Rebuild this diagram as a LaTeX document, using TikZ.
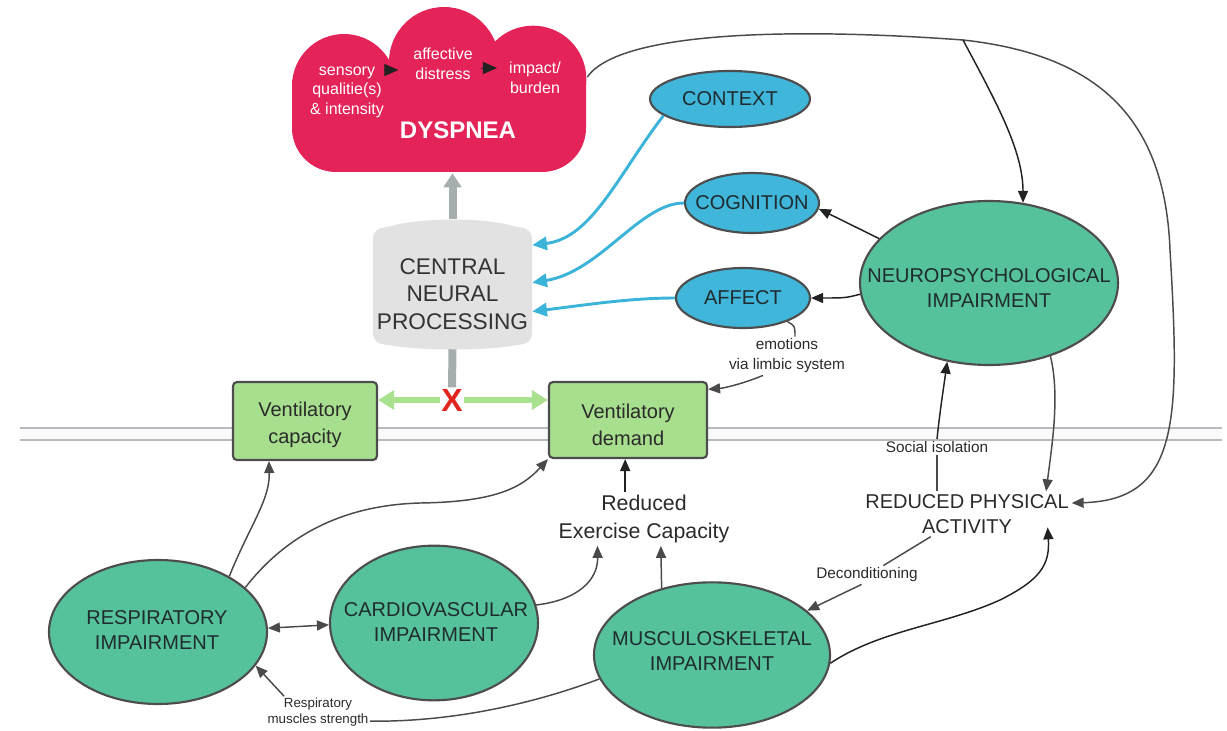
\documentclass[tikz,border=0pt]{standalone}
\usepackage{fontspec}
\setmainfont{Liberation Sans}
\usetikzlibrary{shapes.geometric, arrows.meta}
\definecolor{dysred}{HTML}{E42458}
\definecolor{cnpg}{HTML}{E2E2E2}
\definecolor{cnptxt}{HTML}{333333}
\definecolor{grayarr}{HTML}{A6ADAF}
\definecolor{boxg}{HTML}{A8DF8E}
\definecolor{garrc}{HTML}{A9E18F}
\definecolor{xred}{HTML}{E1251F}
\definecolor{bluef}{HTML}{40B6DB}
\definecolor{bluel}{HTML}{3CB4DA}
\definecolor{tealf}{HTML}{56C29B}
\definecolor{edgec}{HTML}{4D4D4D}
\definecolor{lineg}{HTML}{4A4A4A}
\definecolor{linek}{HTML}{222222}
\definecolor{txt}{HTML}{2A2A2A}
\definecolor{etxt}{HTML}{1F2B2E}
\definecolor{membc}{HTML}{B9B9C0}
\tikzset{
  darr/.style={draw=lineg, line width=1.1pt, -{Triangle[length=9pt,width=7.5pt]}},
  darrk/.style={darr, draw=linek, -{Triangle[length=9pt,width=7.5pt,fill=linek]}},
  dboth/.style={draw=lineg, line width=1.1pt, {Triangle[length=9pt,width=7.5pt]}-{Triangle[length=9pt,width=7.5pt]}},
  dline/.style={draw=lineg, line width=1.1pt},
  barr/.style={draw=bluel, line width=2.2pt, -{Triangle[length=11pt,width=10pt]}},
  garr/.style={draw=garrc, line width=4.5pt, -{Triangle[length=12pt,width=14pt]}},
  grayarr/.style={draw=grayarr, line width=6pt, -{Triangle[length=10.5pt,width=13pt]}},
  grayline/.style={draw=grayarr, line width=6pt},
  ctip/.style={draw=linek, line width=0.6pt, -{Triangle[length=10.5pt,width=9pt,fill=linek]}},
  ell/.style={ellipse, draw=edgec, line width=1.6pt, inner sep=0pt},
  blueell/.style={ell, fill=bluef},
  greenell/.style={ell, fill=tealf},
  etext/.style={font=\fontsize{15}{18.75}\selectfont, text=etxt, align=center, inner sep=0pt},
  vbox/.style={draw=edgec, line width=1.6pt, fill=boxg, rounded corners=3pt, inner sep=0pt},
  vtext/.style={font=\fontsize{15}{20}\selectfont, text=txt, align=center, inner sep=0pt},
  ctext/.style={font=\fontsize{12}{14.6}\selectfont, text=white, align=center, inner sep=0pt},
  lbl/.style={font=\fontsize{11.5}{15}\selectfont, text=txt, align=center, inner sep=1.5pt},
  smlbl/.style={font=\fontsize{10}{12}\selectfont, text=txt, align=center, inner sep=1pt},
  bigtext/.style={font=\fontsize{15}{19}\selectfont, text=txt, align=center, inner sep=2pt},
}
\begin{document}
\begin{tikzpicture}[x=0.75pt,y=-0.75pt]
\useasboundingbox (0,0) rectangle (1227,731);
% membrane
\fill[white!96!gray] (20,428) rectangle (1222,440);
\draw[membc, line width=1.6pt] (20,428) -- (1222,428) (20,440) -- (1222,440);

% cloud
\fill[dysred] (344,86) circle[radius=39pt] (444,62) circle[radius=41.25pt] (533,79) circle[radius=40pt];
\fill[dysred] (292,80) [rounded corners=33pt] -- (292,172) -- (586,172) [sharp corners] -- (586,80) -- cycle;
\node[inner sep=0pt, minimum width=222pt, minimum height=124.5pt] (cloud) at (439,90) {};
\node[ctext] (sens) at (347,92) {sensory\\qualitie(s)\\\& intensity};
\node[ctext] (aff) at (443,64) {affective\\distress};
\node[ctext] (imp) at (535,78) {impact/\\burden};
\node[font=\bfseries\fontsize{18}{18}\selectfont, text=white, inner sep=0pt] (dys) at (458,130) {DYSPNEA};
\draw[ctip, shorten >=11pt] (sens.east |- 0,70) -- (aff.west |- 0,70);
\draw[ctip, shorten <=6pt, shorten >=9pt] (aff.east |- 0,68) -- (imp.west |- 0,68);

% central neural processing
\fill[cnpg] (373,240) -- (373,332) .. controls (373,342) and (378,344) .. (388,345)
  .. controls (420,351) and (486,351) .. (517,345) .. controls (527,344) and (532,342) .. (532,332)
  -- (532,240) .. controls (532,230) and (527,228) .. (517,227)
  .. controls (486,217) and (420,217) .. (388,227) .. controls (378,228) and (373,230) .. (373,240) -- cycle;
\node[inner sep=0pt, minimum width=119.25pt, minimum height=97.5pt] (cnp) at (452.5,284) {};
\node[inner sep=0pt, align=center, font=\fontsize{17}{20.5}\selectfont, text=cnptxt] (cnpt) at (452.5,294) {CENTRAL\\NEURAL\\PROCESSING};
\draw[grayarr] (cnp.north) -- (cnp.north |- cloud.south);

% X and ventilatory boxes
\node[font=\bfseries\fontsize{24}{24}\selectfont, text=xred, inner sep=1pt] (xmark) at (452,400) {X};
\draw[grayline] (cnp.south) -- (xmark.north);
\node[vbox, minimum width=108pt, minimum height=58.5pt] (vc) at (305,421) {};
\node[vtext] (vct) at (305,425) {Ventilatory\\capacity};
\node[vbox, minimum width=118.5pt, minimum height=57pt] (vd) at (628,420) {};
\node[vtext] (vdt) at (628,425) {Ventilatory\\demand};
\draw[garr] (xmark.west) -- (xmark.west -| vc.east);
\draw[garr] (xmark.east) -- (xmark.east -| vd.west);

% blue ellipses
\node[blueell, minimum width=120pt, minimum height=42pt] (context) at (730,99) {};
\node[etext] (contextt) at (context) {CONTEXT};
\node[blueell, minimum width=100.5pt, minimum height=45pt] (cognition) at (752,203) {};
\node[etext] (cognitiont) at (cognition) {COGNITION};
\node[blueell, minimum width=100.5pt, minimum height=45pt] (affect) at (743,298) {};
\node[etext] (affectt) at (affect) {AFFECT};

% green ellipses
\node[greenell, minimum width=193.5pt, minimum height=123pt] (neuro) at (989,283) {};
\node[etext] (neurot) at (989,288) {NEUROPSYCHOLOGICAL\\IMPAIRMENT};
\node[greenell, minimum width=163.5pt, minimum height=108pt] (resp) at (158,632) {};
\node[etext] (respt) at (157,630) {RESPIRATORY\\IMPAIRMENT};
\node[greenell, minimum width=156pt, minimum height=116pt] (cardio) at (434,623) {};
\node[etext] (cardiot) at (436,622) {CARDIOVASCULAR\\IMPAIRMENT};
\node[greenell, minimum width=177pt, minimum height=109pt] (msk) at (712,655) {};
\node[etext] (mskt) at (712,651) {MUSCULOSKELETAL\\IMPAIRMENT};

% text nodes
\node[bigtext] (rpa) at (967,514) {REDUCED PHYSICAL\\ACTIVITY};
\node[font=\fontsize{16}{21}\selectfont, text=txt, align=center, inner sep=2pt] (rec) at (644,519) {Reduced\\Exercise Capacity};
\node[lbl] (emo) at (787,356) {emotions\\via limbic system};
\node[lbl] (soc) at (937,447) {Social isolation};
\node[lbl] (deco) at (867,575) {Deconditioning};
\node[smlbl] (rms) at (318,712) {Respiratory\\muscles strength};

% blue connectors
\draw[barr] (context.194) .. controls (618,175) and (592,238) .. (cnp.26);
\draw[barr] (cognition.west) .. controls (640,203) and (600,272) .. (cnp.1);
\draw[barr] (affect.west) .. controls (630,298) and (585,305) .. (cnp.-19);

% neuro connectors
\draw[darrk] (neuro.158) -- (cognition.-5);
\draw[darrk] (neuro.185) .. controls (845,298) .. (affect.east);
\coordinate (top) at (963,40);
\coordinate (rloop) at (1170,250);
\draw[darr] (cloud.5) .. controls (620,30) and (800,28) .. (top)
  .. controls (1100,55) and (1165,120) .. (rloop)
  .. controls (1180,420) and (1180,500) .. (rpa.6);
\draw[darrk] (top) .. controls (995,100) and (1023,150) .. (neuro.67);
\draw[darr] (neuro.-50) .. controls (1060,395) and (1052,445) .. (rpa.16);
\draw[darrk] (soc.north) .. controls (940,410) and (944,385) .. (neuro.-118);
\draw[dline] (soc.south |- rpa.north) -- (soc.south);

% affect -> demand
\draw[dline] (affect.-28) .. controls (795,326) .. ([xshift=6pt]emo.north);
\draw[darr] ([xshift=-18pt]emo.south) .. controls (745,383) and (725,388) .. (vd.21);

% deconditioning
\draw[dline] (rpa.-148) -- (deco.30);
\draw[darr] (deco.-120) -- (msk.25);
\draw[darrk] (msk.-4) .. controls (880,630) and (945,625) .. (1000,600)
  .. controls (1040,580) and (1050,565) .. ([xshift=-18pt,yshift=7pt]rpa.south east);

% reduced exercise capacity
\draw[darrk] (rec.125) -- (rec.125 |- vd.south);
\draw[darr] (msk.127) -- (rec.-58);
\draw[darr] (cardio.10) .. controls (578,600) and (598,580) .. (rec.-150);

% respiratory
\draw[dboth] (resp.2) -- (cardio.181);
\draw[dline] (msk.192) .. controls (530,705) and (450,722) .. (rms.-10);
\draw[darr] (rms.155) -- (resp.-19);
\draw[darr] (resp.38) .. controls (250,525) and (270,500) .. (vc.228);
\draw[darr] (resp.27) .. controls (290,530) and (350,505) .. (420,503)
  .. controls (490,502) and (520,490) .. (vd.south west);
\end{tikzpicture}
\end{document}
